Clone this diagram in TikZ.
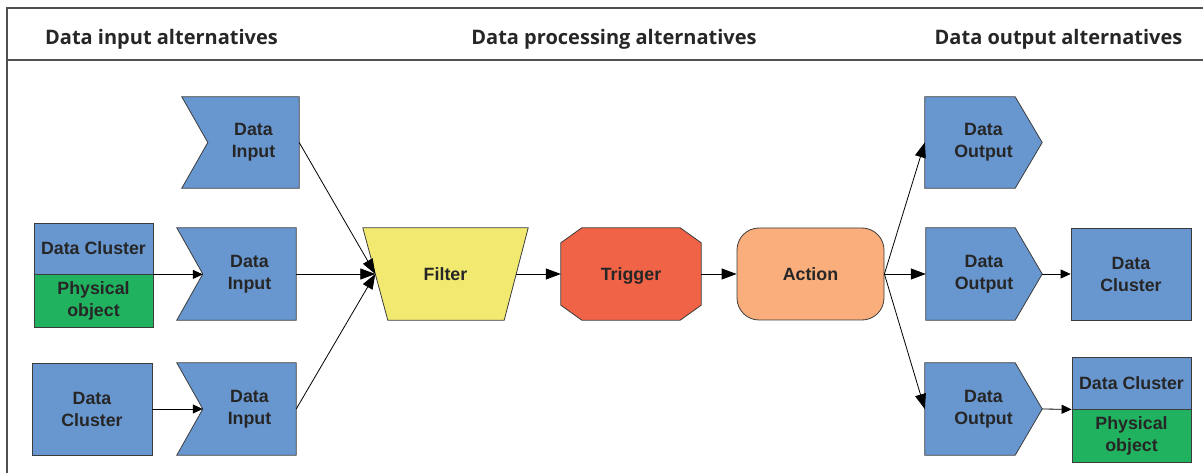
\documentclass[tikz,border=0pt]{standalone}
\usepackage{fontspec}
\setmainfont{Liberation Sans}
\newfontfamily\headfont{Open Sans}
\usetikzlibrary{arrows.meta,backgrounds,calc}

\definecolor{boxblue}{RGB}{104,151,208}
\definecolor{objgreen}{RGB}{33,178,96}
\definecolor{filteryellow}{RGB}{242,234,112}
\definecolor{triggerred}{RGB}{241,99,70}
\definecolor{actionorange}{RGB}{250,174,124}
\definecolor{ink}{RGB}{38,38,38}
\definecolor{edge}{RGB}{60,60,60}
\definecolor{framegray}{RGB}{80,80,80}

\tikzset{
  lbl/.style={inner sep=0pt, align=center, text=ink,
    font=\fontsize{17.8}{22}\selectfont\bfseries},
  head/.style={inner sep=0pt, text=ink, anchor=base,
    font=\headfont\fontsize{20}{24}\selectfont\bfseries},
  shapeline/.style={draw=edge, line width=0.8pt},
  bluebox/.style={lbl, shapeline, fill=boxblue},
  greenbox/.style={lbl, shapeline, fill=objgreen},
  framerule/.style={draw=framegray, line width=1.4pt},
  bigarrow/.style={draw=black, line width=0.8pt,
    -{Triangle[length=15pt,width=11pt]}},
  smallarrow/.style={draw=black, line width=0.8pt,
    -{Triangle[length=10pt,width=9pt]}},
}

\begin{document}
\begin{tikzpicture}[x=1pt,y=-1pt]
\useasboundingbox (0,0) rectangle (1203,473);

% header frame
\draw[framerule] (1203,8) -- (7,8) -- (7,473);
\draw[framerule] (7,60) -- (1203,60);

\node[head] (hin)  at (161.5,45) {Data input alternatives};
\node[head] (hpro) at (614,45)   {Data processing alternatives};
\node[head] (hout) at (1058.5,45) {Data output alternatives};

% ---------- input side ----------
\node[bluebox, minimum width=119, minimum height=51] (cl1a) at (93.5,248.5) {Data Cluster};
\node[greenbox, minimum width=119, minimum height=53] (cl1b) at (93.5,300.5) {Physical\\object};
\node[bluebox, minimum width=120, minimum height=92] (cl2) at (92,409) {Data\\Cluster};

\node[lbl, minimum width=91, minimum height=91] (in1) at (253.5,142.5) {Data\\Input};
\node[lbl, minimum width=93, minimum height=92] (in2) at (249.5,274) {Data\\Input};
\node[lbl, minimum width=93, minimum height=92] (in3) at (249.5,409) {Data\\Input};

% ---------- processing ----------
\node[lbl, minimum width=165, minimum height=92] (filter) at (445.5,274) {Filter};
\coordinate (filterin) at ($(filter.west)+(12.5,0)$);
\coordinate (filterout) at ($(filter.east)+(-12,0)$);
\node[lbl, text depth=0pt, minimum width=140, minimum height=92] (trigger) at (631,274) {Trigger};
\node[lbl, shapeline, fill=actionorange, rounded corners=22pt,
      minimum width=147, minimum height=92] (action) at (810.5,274) {Action};

% ---------- output side ----------
\node[lbl, minimum width=117, minimum height=91] (out1) at (983.5,142.5) {Data\\Output};
\node[lbl, minimum width=116, minimum height=92] (out2) at (984,274) {Data\\Output};
\node[lbl, minimum width=117, minimum height=92] (out3) at (983.5,409) {Data\\Output};

\node[bluebox, minimum width=120, minimum height=92] (cl3) at (1131,274) {Data\\Cluster};
\node[bluebox, minimum width=119, minimum height=52] (cl4a) at (1131.5,383) {Data Cluster};
\node[greenbox, minimum width=119, minimum height=53] (cl4b) at (1131.5,435.5) {Physical\\object};

% ---------- shape outlines behind the labels ----------
\begin{scope}[on background layer]
  \foreach \n in {in1,in2,in3}{
    \path[shapeline, fill=boxblue]
      (\n.north east) -- (\n.south east) -- ($(\n.south west)+(-26,0)$)
      -- (\n.west) -- ($(\n.north west)+(-26,0)$) -- cycle;
  }
  \foreach \n in {out1,out2,out3}{
    \path[shapeline, fill=boxblue]
      (\n.north west) -- ($(\n.north east)+(-27,0)$) -- (\n.east)
      -- ($(\n.south east)+(-27,0)$) -- (\n.south west) -- cycle;
  }
  \path[shapeline, fill=filteryellow]
    (filter.north west) -- (filter.north east)
    -- ($(filter.south east)+(-24,0)$) -- ($(filter.south west)+(25,0)$) -- cycle;
  \path[shapeline, fill=triggerred]
    ($(trigger.north west)+(21,0)$) -- ($(trigger.north east)+(-21,0)$)
    -- ($(trigger.north east)+(0,15)$) -- ($(trigger.south east)+(0,-15)$)
    -- ($(trigger.south east)+(-21,0)$) -- ($(trigger.south west)+(21,0)$)
    -- ($(trigger.south west)+(0,-15)$) -- ($(trigger.north west)+(0,15)$) -- cycle;
\end{scope}

% ---------- connectors ----------
\draw[smallarrow] (cl1a.south east) -- (cl1a.south east -| in2.west);
\draw[smallarrow] (cl2.east) -- (in3.west);

\draw[bigarrow] (in1.east) -- (filterin);
\draw[bigarrow] (in2.east) -- (filterin);
\draw[bigarrow] (in3.east) -- (filterin);

\draw[bigarrow] (filterout) -- (trigger.west);
\draw[bigarrow] (trigger.east) -- (action.west);

\draw[bigarrow] (action.east) -- (out1.west);
\draw[bigarrow] (action.east) -- (out2.west);
\draw[bigarrow] (action.east) -- (out3.west);

\draw[smallarrow] (out2.east) -- (cl3.west);
\draw[smallarrow] (out3.east) -- (cl4a.south west);
\end{tikzpicture}
\end{document}
